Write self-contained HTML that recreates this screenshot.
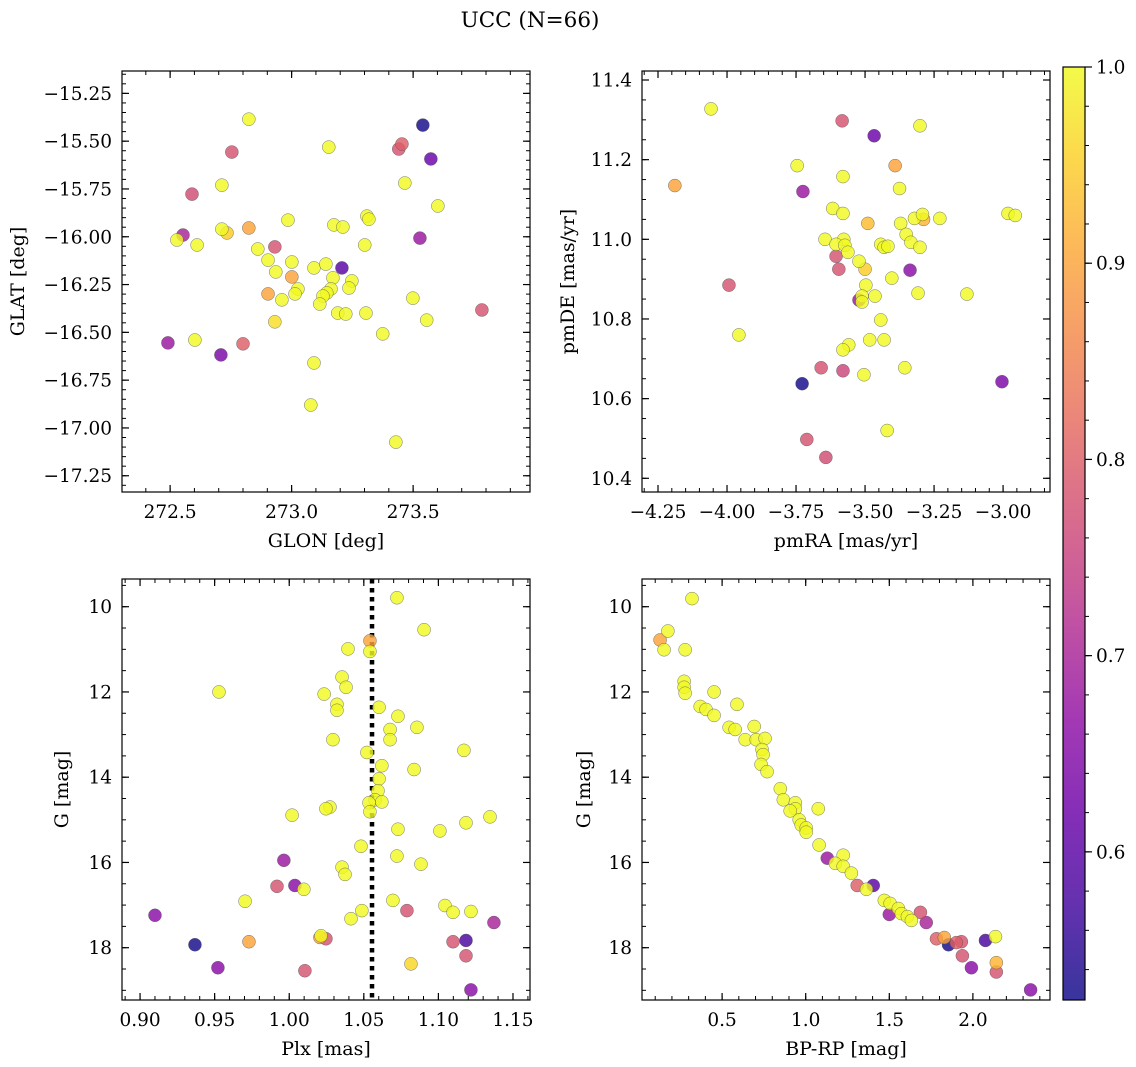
<!DOCTYPE html>
<html><head><meta charset="utf-8"><style>
html,body{margin:0;padding:0;background:#fff;}
svg{display:block;font-family:"DejaVu Serif","Liberation Serif",serif;}
</style></head><body>
<svg id="fig" width="1136" height="1067" viewBox="0 0 1136 1067" xmlns="http://www.w3.org/2000/svg">
<text x="530" y="27" font-size="21.5" text-anchor="middle">UCC (N=66)</text>
</svg>
<script>
// ---- Panel 1 data: GLON / GLAT / probability
const glon=[272.824,273.540,272.754,273.441,273.454,273.573,273.153,273.466,272.713,272.590,273.602,273.310,273.318,272.985,273.174,273.211,272.824,272.713,272.734,272.553,272.528,273.528,272.611,273.301,272.861,272.931,272.903,273.001,273.207,273.092,273.141,272.935,273.001,273.248,273.170,273.026,273.162,273.145,273.236,272.903,273.014,272.960,273.129,273.116,273.499,273.190,273.223,273.306,273.556,272.931,273.783,273.375,272.602,272.491,272.800,272.709,273.092,273.079,273.429];
const glat=[-15.385,-15.416,-15.557,-15.541,-15.515,-15.593,-15.531,-15.719,-15.730,-15.777,-15.839,-15.892,-15.908,-15.913,-15.938,-15.949,-15.954,-15.960,-15.980,-15.991,-16.017,-16.007,-16.043,-16.043,-16.064,-16.053,-16.122,-16.132,-16.163,-16.163,-16.143,-16.184,-16.210,-16.231,-16.215,-16.273,-16.273,-16.294,-16.268,-16.299,-16.299,-16.330,-16.310,-16.352,-16.321,-16.399,-16.404,-16.399,-16.436,-16.445,-16.383,-16.508,-16.540,-16.555,-16.560,-16.618,-16.660,-16.880,-17.074];
const prob1=[1,0.53,0.78,0.78,0.8,0.62,1,1,1,0.77,1,1,1,1,1,1,0.9,1,0.95,0.7,1,0.68,1,1,1,0.78,1,1,0.6,1,1,1,0.9,1,1,1,1,1,1,0.9,1,1,1,1,1,1,1,1,1,0.97,0.78,1,1,0.68,0.8,0.64,1,1,1];
// ---- Panel 2 data: pmRA / pmDE / probability
const pmra=[-4.058,-3.583,-3.467,-3.301,-4.189,-3.746,-3.391,-3.580,-3.725,-3.375,-3.617,-3.580,-3.490,-3.371,-3.321,-3.292,-3.288,-3.229,-2.982,-2.956,-3.645,-3.577,-3.605,-3.573,-3.562,-3.605,-3.443,-3.431,-3.417,-3.351,-3.334,-3.301,-3.522,-3.500,-3.595,-3.337,-3.403,-3.993,-3.497,-3.511,-3.464,-3.522,-3.511,-3.308,-3.131,-3.443,-3.957,-3.483,-3.431,-3.559,-3.580,-3.659,-3.580,-3.504,-3.356,-3.728,-3.004,-3.420,-3.711,-3.642];
const pmde=[11.3275,11.2975,11.26,11.285,11.135,11.185,11.185,11.1575,11.12,11.1275,11.0775,11.065,11.04,11.04,11.0525,11.0625,11.05,11.0525,11.065,11.06,11.0,11.0,10.9875,10.985,10.9675,10.9575,10.9875,10.98,10.9825,11.0125,10.9925,10.98,10.945,10.925,10.925,10.9225,10.9025,10.885,10.885,10.8575,10.8575,10.8475,10.8425,10.865,10.8625,10.7975,10.76,10.7475,10.7475,10.735,10.7225,10.6775,10.67,10.66,10.6775,10.6375,10.6425,10.52,10.4975,10.4525];
const prob2=[1,0.78,0.62,1,0.9,1,0.9,1,0.68,1,1,1,0.93,1,1,1,0.92,1,1,1,1,1,1,1,1,0.78,1,1,1,1,1,1,1,0.95,0.78,0.66,1,0.78,1,1,1,0.68,1,1,1,1,1,1,1,1,1,0.78,0.76,1,1,0.53,0.64,1,0.78,0.77];
// ---- Panel 3 data: Plx / G / probability
const plx=[1.0722,1.0904,1.0541,1.0541,1.0394,0.9529,1.0354,1.0381,1.0234,1.0602,1.0320,1.0320,1.0729,1.0856,1.0676,1.0676,1.0293,1.0521,1.1171,1.0621,1.0837,1.0602,1.0595,1.0575,1.0535,1.0621,1.0541,1.0273,1.0246,1.0019,1.0729,1.1010,1.1185,1.1346,1.0481,1.0722,0.9964,1.0354,1.0374,1.0883,0.9918,1.0038,1.0098,0.9704,1.0695,1.1044,1.1098,1.1218,1.0487,1.0414,1.0789,0.9100,1.1372,1.0213,1.0246,1.0206,0.9730,0.9368,1.1098,1.1185,1.1185,1.0816,0.9522,1.0105,1.1218];
const gmag3=[9.79,10.54,10.8,11.05,10.99,12.0,11.65,11.89,12.05,12.36,12.29,12.43,12.57,12.83,12.88,13.12,13.12,13.42,13.37,13.73,13.82,14.04,14.32,14.53,14.6,14.58,14.81,14.7,14.74,14.89,15.22,15.26,15.07,14.93,15.62,15.85,15.95,16.11,16.28,16.04,16.56,16.54,16.63,16.91,16.89,17.01,17.17,17.15,17.13,17.32,17.13,17.24,17.41,17.72,17.79,17.76,17.86,17.93,17.86,17.83,18.19,18.38,18.47,18.54,18.99];
const prob3=[1,1,0.9,1,1,1,1,1,1,1,1,1,1,1,1,1,1,1,1,1,1,1,1,1,1,1,1,1,1,1,1,1,1,1,1,1,0.68,1,1,1,0.78,0.66,1,1,1,1,1,1,1,1,0.78,0.66,0.7,1,0.78,0.9,0.9,0.53,0.78,0.58,0.78,0.96,0.66,0.78,0.66];
// ---- Panel 4 data: BP-RP / G / probability
const bprp=[0.320,0.176,0.129,0.153,0.279,0.273,0.273,0.279,0.452,0.369,0.404,0.589,0.452,0.542,0.578,0.692,0.638,0.704,0.757,0.739,0.745,0.733,0.769,0.848,0.866,0.938,0.938,0.907,1.075,0.961,0.973,1.003,1.003,1.080,1.224,1.129,1.177,1.224,1.273,1.308,1.404,1.363,1.470,1.505,1.500,1.554,1.572,1.608,1.632,1.686,1.721,1.782,1.829,1.854,1.901,1.931,1.937,2.075,2.135,1.991,2.140,2.140,2.345];
const gmag4=[9.81,10.57,10.78,11.01,11.01,11.75,11.89,12.03,12.0,12.34,12.41,12.29,12.55,12.83,12.88,12.81,13.12,13.12,13.09,13.35,13.47,13.7,13.87,14.27,14.53,14.6,14.74,14.79,14.74,15.0,15.12,15.19,15.29,15.59,15.83,15.9,16.02,16.09,16.25,16.54,16.54,16.63,16.89,16.96,17.22,17.08,17.2,17.27,17.36,17.17,17.41,17.79,17.76,17.93,17.88,17.86,18.19,17.83,17.74,18.47,18.35,18.57,18.99];
const prob4=[1,1,0.9,1,1,1,1,1,1,1,1,1,1,1,1,1,1,1,1,1,1,1,1,1,1,1,1,1,1,1,1,1,1,1,1,0.68,1,1,1,0.8,0.6,1,1,1,0.68,1,1,1,1,0.78,0.7,0.8,0.9,0.53,0.8,0.78,0.78,0.58,1,0.66,0.92,0.78,0.66];
const cbTicks=[0.6,0.7,0.8,0.9,1.0];
const plxLine=1.0555;

const NS="http://www.w3.org/2000/svg";
const svg=document.getElementById('fig');
function mk(tag,attrs,parent){const e=document.createElementNS(NS,tag);for(const k in attrs)e.setAttribute(k,attrs[k]);(parent||svg).appendChild(e);return e;}
const stops=["#0d0887","#41049d","#6a00a8","#8f0da4","#b12a90","#cc4778","#e16462","#f2844b","#fca636","#fcce25","#f0f921"];
const VMIN=0.5245,VMAX=1.0;
function hex(h){return [1,3,5].map(i=>parseInt(h.substr(i,2),16));}
function cmap(v){let t=(v-VMIN)/(VMAX-VMIN);t=Math.max(0,Math.min(1,t));const f=t*10,i=Math.min(9,Math.floor(f)),r=f-i;const a=hex(stops[i]),b=hex(stops[i+1]);return 'rgb('+a.map((c,k)=>Math.round(c+(b[k]-c)*r)).join(',')+')';}
const fmtNum=(v,d)=>{const s=v.toFixed(d);return s.startsWith('-')?'\u2212'+s.slice(1):s;};
const FS=18.5, LFS=19;

function panel(o){
  const g=mk('g',{});
  
  
  const sx=v=>o.x0+(v-o.xmin)/(o.xmax-o.xmin)*(o.x1-o.x0);
  const sy=v=>o.yinv? o.y0+(v-o.ymin)/(o.ymax-o.ymin)*(o.y1-o.y0) : o.y1-(v-o.ymin)/(o.ymax-o.ymin)*(o.y1-o.y0);
  const eps=1e-9;
  function ticks(min,max,step){const r=[];for(let v=Math.ceil(min/step-eps)*step;v<=max+eps;v+=step)r.push(+v.toFixed(6));return r;}
  ticks(o.xmin,o.xmax,o.xminor).forEach(v=>{const x=sx(v);mk('line',{x1:x,x2:x,y1:o.y1,y2:o.y1-4,stroke:'#000','stroke-width':1},g);mk('line',{x1:x,x2:x,y1:o.y0,y2:o.y0+4,stroke:'#000','stroke-width':1},g);});
  ticks(o.ymin,o.ymax,o.yminor).forEach(v=>{const y=sy(v);mk('line',{x1:o.x0,x2:o.x0+4,y1:y,y2:y,stroke:'#000','stroke-width':1},g);mk('line',{x1:o.x1,x2:o.x1-4,y1:y,y2:y,stroke:'#000','stroke-width':1},g);});
  ticks(o.xmin,o.xmax,o.xmajor).forEach(v=>{const x=sx(v);mk('line',{x1:x,x2:x,y1:o.y1,y2:o.y1-7,stroke:'#000','stroke-width':1.2},g);mk('line',{x1:x,x2:x,y1:o.y0,y2:o.y0+7,stroke:'#000','stroke-width':1.2},g);
    const t=mk('text',{x:x,y:o.y1+26,'font-size':FS,'text-anchor':'middle'},g);t.textContent=fmtNum(v,o.xd);
    
    });
  ticks(o.ymin,o.ymax,o.ymajor).forEach(v=>{const y=sy(v);mk('line',{x1:o.x0,x2:o.x0+7,y1:y,y2:y,stroke:'#000','stroke-width':1.2},g);mk('line',{x1:o.x1,x2:o.x1-7,y1:y,y2:y,stroke:'#000','stroke-width':1.2},g);
    const t=mk('text',{x:o.x0-10,y:y+6.5,'font-size':FS,'text-anchor':'end'},g);t.textContent=fmtNum(v,o.yd);
    
    });
  if(o.vline!==undefined){const l=mk('line',{x1:sx(o.vline),x2:sx(o.vline),y1:o.y0,y2:o.y1,stroke:'#000','stroke-width':4.5,'stroke-dasharray':'4.5,4.5'},g);
    
    }
  const idx=o.xs.map((_,i)=>i).sort((a,b)=>o.cs[a]-o.cs[b]);
  idx.forEach(i=>{const c=mk('circle',{cx:sx(o.xs[i]),cy:sy(o.ys[i]),r:6.5,fill:cmap(o.cs[i]),'fill-opacity':0.82,stroke:'#555','stroke-width':0.5,'stroke-opacity':0.8},g);
    
    });
  mk('rect',{x:o.x0,y:o.y0,width:o.x1-o.x0,height:o.y1-o.y0,fill:'none',stroke:'#000','stroke-width':1.2},g);
  const xl=mk('text',{x:(o.x0+o.x1)/2,y:o.y1+55,'font-size':LFS,'text-anchor':'middle'},g);xl.textContent=o.xlabel;
  
  
  const ylx=o.ylx,yly=(o.y0+o.y1)/2;
  const yl=mk('text',{x:ylx,y:yly,'font-size':LFS,'text-anchor':'middle',transform:'rotate(-90 '+ylx+' '+yly+')'},g);yl.textContent=o.ylabel;
  
  
}
panel({name:'panel-glon-glat',x0:122,x1:530,y0:71,y1:492,xmin:272.302,xmax:273.981,ymin:-17.335,ymax:-15.133,xmajor:0.5,xminor:0.1,ymajor:0.25,yminor:0.05,xd:1,yd:2,xs:glon,ys:glat,cs:prob1,xlabel:'GLON [deg]',ylabel:'GLAT [deg]',ylx:24});
panel({name:'panel-pm',x0:642,x1:1050,y0:71,y1:492,xmin:-4.308,xmax:-2.830,ymin:10.3656,ymax:11.4226,xmajor:0.25,xminor:0.05,ymajor:0.2,yminor:0.05,xd:2,yd:1,xs:pmra,ys:pmde,cs:prob2,xlabel:'pmRA [mas/yr]',ylabel:'pmDE [mas/yr]',ylx:574});
panel({name:'panel-plx-g',x0:122,x1:530,y0:579,y1:1000,xmin:0.8879,xmax:1.1614,ymin:9.350,ymax:19.227,yinv:true,xmajor:0.05,xminor:0.01,ymajor:2,yminor:0.5,xd:2,yd:0,xs:plx,ys:gmag3,cs:prob3,xlabel:'Plx [mas]',ylabel:'G [mag]',ylx:68,vline:plxLine});
panel({name:'panel-cmd',x0:642,x1:1050,y0:579,y1:1000,xmin:0.021,xmax:2.461,ymin:9.350,ymax:19.227,yinv:true,xmajor:0.5,xminor:0.1,ymajor:2,yminor:0.5,xd:1,yd:0,xs:bprp,ys:gmag4,cs:prob4,xlabel:'BP-RP [mag]',ylabel:'G [mag]',ylx:590});

const cb=mk('g',{});


const defs=mk('defs',{},cb);
const lg=mk('linearGradient',{id:'cbg',x1:0,y1:1,x2:0,y2:0},defs);
for(let i=0;i<=20;i++){const v=VMIN+(VMAX-VMIN)*i/20;mk('stop',{offset:(i/20),'stop-color':cmap(v),'stop-opacity':0.82},lg);}
const cbx=1063,cbw=22,cbt=67,cbb=1000;
mk('rect',{x:cbx,y:cbt,width:cbw,height:cbb-cbt,fill:'url(#cbg)'},cb);
mk('rect',{x:cbx,y:cbt,width:cbw,height:cbb-cbt,fill:'none',stroke:'#000','stroke-width':1.2},cb);
const cy=v=>cbb-(v-VMIN)/(VMAX-VMIN)*(cbb-cbt);
for(let v=0.54;v<=1.0001;v+=0.02){mk('line',{x1:cbx+cbw,x2:cbx+cbw+4,y1:cy(v),y2:cy(v),stroke:'#000','stroke-width':1},cb);}
cbTicks.forEach(v=>{mk('line',{x1:cbx+cbw,x2:cbx+cbw+7,y1:cy(v),y2:cy(v),stroke:'#000','stroke-width':1.2},cb);
  const t=mk('text',{x:cbx+cbw+11,y:cy(v)+6.5,'font-size':FS},cb);t.textContent=v.toFixed(1);
  
  });
</script>
</body></html>
